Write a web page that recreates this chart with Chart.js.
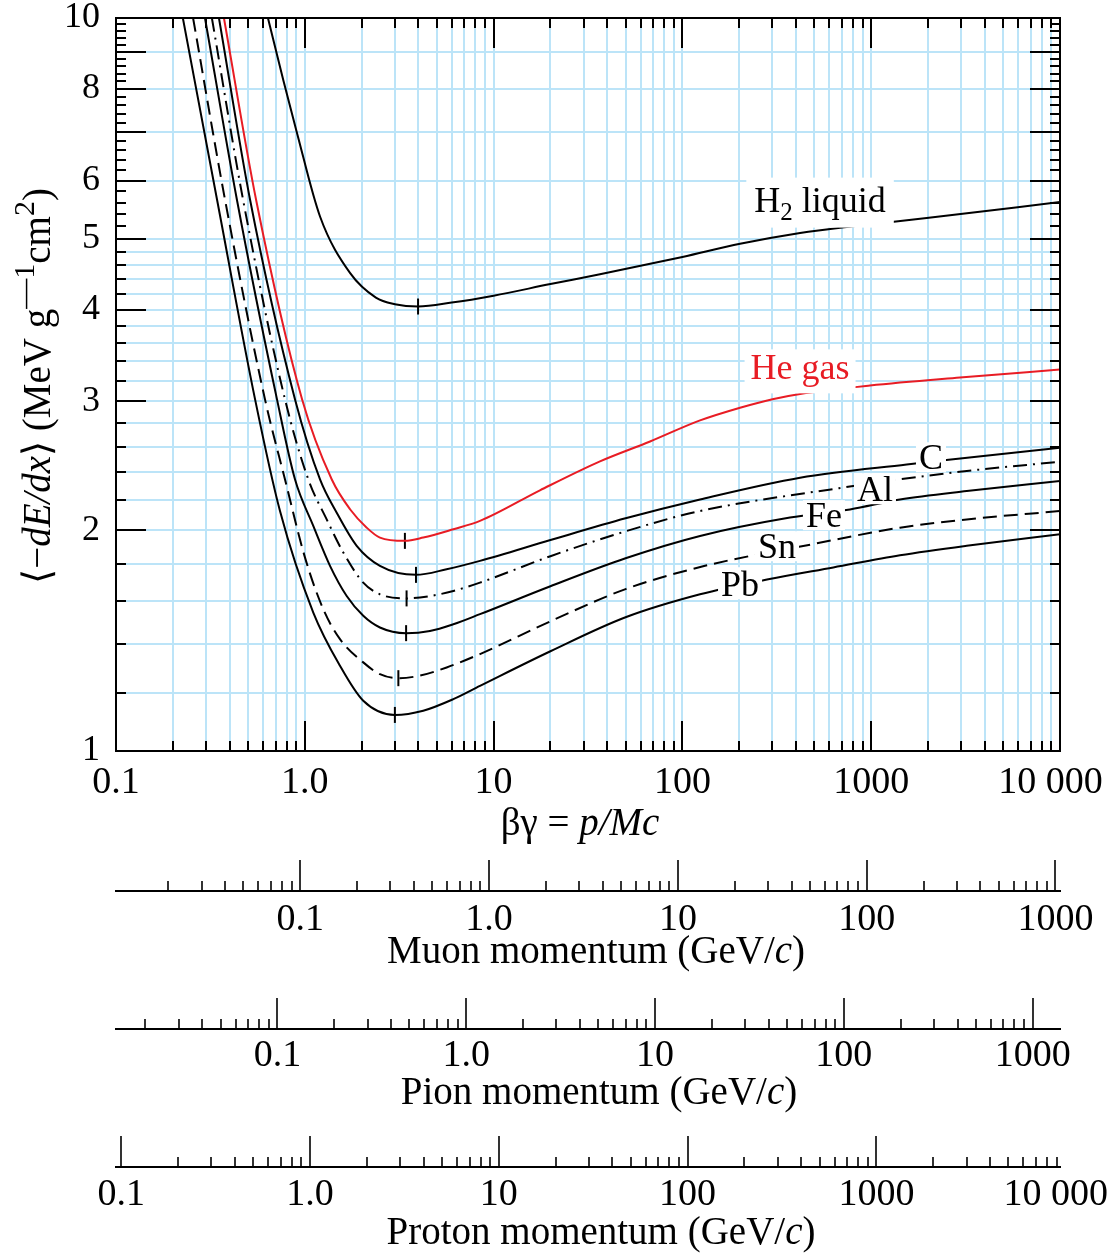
<!DOCTYPE html>
<html><head><meta charset="utf-8">
<script src="https://cdn.jsdelivr.net/npm/chart.js@4/dist/chart.umd.min.js"></script>
<style>html,body{margin:0;padding:0;background:#fff}#wrap{width:1109px;height:1253px;position:relative}</style>
</head><body><div id="wrap"><canvas id="c" width="1109" height="1253"></canvas></div>
<script>
// ---------------- data (βγ = p/Mc, mean stopping power MeV g^-1 cm^2) ----------------
const bgH2   = [0.638,0.769,0.909,1.204,1.735,2.38,3.0,3.98,6.0,10,20,36.6,100,202,420,803,1968,10000];
const dedxH2 = [10,8.23,6.97,5.36,4.49,4.155,4.07,4.04,4.09,4.18,4.335,4.47,4.72,4.92,5.09,5.20,5.335,5.61];

const bgHe   = [0.373,0.552,0.967,1.388,1.736,2.128,2.50,3.39,4.24,6.12,8.47,17.6,36.6,67.4,124,202,300,420,985,2951,10000];
const dedxHe = [10,5.65,3.02,2.348,2.137,2.017,1.955,1.935,1.955,2.007,2.06,2.268,2.484,2.644,2.825,2.94,3.02,3.07,3.152,3.232,3.314];

const bgC    = [0.351,0.513,0.887,1.204,1.476,1.883,2.50,3.88,5.64,8.47,20,50,124,420,1542,2722,10000];
const dedxC  = [10,5.65,3.02,2.348,2.114,1.905,1.789,1.739,1.77,1.817,1.94,2.077,2.204,2.36,2.46,2.50,2.593];

const bgAl   = [0.322,0.471,0.785,1.043,1.306,1.6,2.04,2.5,3.46,4.6,6.12,8.47,20,50,124,711,1420,3206,10000];
const dedxAl = [10,5.65,3.02,2.348,2.07,1.865,1.697,1.636,1.615,1.627,1.653,1.697,1.844,1.994,2.125,2.288,2.348,2.41,2.481];

const bgFe   = [0.296,0.437,0.712,0.887,1.109,1.36,1.667,2.04,2.5,3.44,4.6,6.12,8.47,20,50,124,371.5,772,1420,3206,10000];
const dedxFe = [10,5.65,3.02,2.348,2.028,1.789,1.627,1.529,1.474,1.448,1.458,1.489,1.537,1.678,1.832,1.965,2.082,2.136,2.204,2.263,2.335];

const bgSn   = [0.256,0.378,0.615,0.785,1.0,1.253,1.536,2.04,2.5,3.13,4.07,5.64,8.47,20,50,131.7,484,1420,3206,10000];
const dedxSn = [10,5.65,3.02,2.348,1.84,1.561,1.421,1.321,1.273,1.257,1.267,1.30,1.356,1.503,1.663,1.789,1.914,2.017,2.07,2.125];

const bgPb   = [0.226,0.343,0.545,0.739,1.109,1.536,2.04,3.0,4.24,6.12,8.47,20,50,124,285,630,1420,3206,10000];
const dedxPb = [10,5.65,3.02,2.125,1.545,1.307,1.171,1.12,1.135,1.177,1.227,1.368,1.522,1.636,1.715,1.78,1.849,1.905,1.975];

// minimum-ionization markers (H2, He, C, Al, Fe, Sn, Pb)
const minBG   = [3.98,3.39,3.88,3.46,3.44,3.13,3.0];
const minDedx = [4.04,1.935,1.739,1.615,1.448,1.257,1.12];

// tick labels
const xLabelVals = [0.1,1,10,100,1000,10000];
const xLabelText = ['0.1','1.0','10','100','1000','10 000\u2007'];
const yLabelVals = [1,2,3,4,5,6,8,10];
const yLabelText = ['1','2','3','4','5','6','8','10'];
const momLabelVals = [0.1,1,10,100,1000,10000];
const momLabelText = ['0.1','1.0','10','100','1000','10 000\u2007'];

// particle masses (GeV/c^2) for the momentum axes
const massMu = 0.10566, massPi = 0.13957, massP = 0.93827;

// ---------------- helpers ----------------
const SERIF = "'Liberation Serif','Times New Roman',serif";
const BLUE = 'rgb(188,228,248)';
const RED = 'rgb(232,28,36)';
function pairs(xs, ys){ return xs.map((x,i)=>({x:x, y:ys[i]})); }
function labelFor(v, vals, texts){ for (let i=0;i<vals.length;i++){ if (Math.abs(v/vals[i]-1)<1e-6) return texts[i]; } return ''; }
function logTicks(min, max){
  const out=[]; const e0=Math.floor(Math.log10(min))-1, e1=Math.ceil(Math.log10(max));
  for (let e=e0;e<=e1;e++) for (let m=1;m<=9;m++){
    const v=parseFloat((m*Math.pow(10,e)).toPrecision(6));
    if (v>=min*(1-1e-9) && v<=max*(1+1e-9)) out.push(v);
  }
  return out;
}
function isDecade(v){ const l=Math.log10(v); return Math.abs(l-Math.round(l))<1e-6; }
function isInt(v){ return Math.abs(v-Math.round(v))<1e-6; }
const yTickVals = []; for (let i=0;i<=45;i++) yTickVals.push(Math.round((1+0.2*i)*10)/10);

function fontOf(s, size){ return (s.it?'italic ':'') + ((s.sup||s.sub)?Math.round(size*(s.k||0.7)):size) + 'px ' + SERIF; }
function segDy(s, size){ return s.sup ? -size*0.4 : (s.sub ? size*0.22 : 0); }
function richWidth(ctx, segs, size){ let w=0; for (const s of segs){ ctx.font=fontOf(s,size); w+=ctx.measureText(s.t).width; } return w; }
function drawRich(ctx, segs, cx, baseY, size, color, box){
  const w = richWidth(ctx, segs, size);
  let x = cx - w/2;
  if (box){
    let top=Infinity, bot=-Infinity;
    for (const s of segs){ ctx.font=fontOf(s,size); const m=ctx.measureText(s.t); const dy=segDy(s,size);
      top=Math.min(top, baseY+dy-m.actualBoundingBoxAscent); bot=Math.max(bot, baseY+dy+m.actualBoundingBoxDescent); }
    ctx.fillStyle='#fff'; ctx.fillRect(x-box, top-box, w+2*box, bot-top+2*box);
  }
  ctx.fillStyle=color; ctx.textAlign='left'; ctx.textBaseline='alphabetic';
  for (const s of segs){ ctx.font=fontOf(s,size); ctx.fillText(s.t, x, baseY+segDy(s,size)); x+=ctx.measureText(s.t).width; }
}

// curve labels placed in data coordinates (βγ, dE/dx) = visual centre of the text
const LABEL_SIZE = 36;
const curveLabels = [
  {segs:[{t:'H'},{t:'2',sub:true},{t:' liquid'}], bg:536, v:5.65, color:'#000', pad:8},
  {segs:[{t:'He gas'}], bg:420, v:3.336, color:RED, pad:6},
  {segs:[{t:'C'}], bg:2073, v:2.515, color:'#000', pad:3},
  {segs:[{t:'Al'}], bg:1047, v:2.275, color:'#000', pad:3},
  {segs:[{t:'Fe'}], bg:562, v:2.097, color:'#000', pad:3},
  {segs:[{t:'Sn'}], bg:317, v:1.902, color:'#000', pad:3},
  {segs:[{t:'Pb'}], bg:202, v:1.688, color:'#000', pad:3}
];

const curves = [
  {label:'H2 liquid', xs:bgH2, ys:dedxH2, color:'#000', dash:[]},
  {label:'He gas', xs:bgHe, ys:dedxHe, color:RED, dash:[]},
  {label:'C', xs:bgC, ys:dedxC, color:'#000', dash:[]},
  {label:'Al', xs:bgAl, ys:dedxAl, color:'#000', dash:[14,6,2,6]},
  {label:'Fe', xs:bgFe, ys:dedxFe, color:'#000', dash:[]},
  {label:'Sn', xs:bgSn, ys:dedxSn, color:'#000', dash:[14,7]},
  {label:'Pb', xs:bgPb, ys:dedxPb, color:'#000', dash:[]}
];
const datasets = curves.map(c => ({
  type:'line', label:c.label, data:pairs(c.xs,c.ys), borderColor:c.color, borderWidth:2,
  borderDash:c.dash, pointRadius:0, fill:false, cubicInterpolationMode:'monotone', xAxisID:'x', yAxisID:'y'
}));
datasets.push({type:'scatter', label:'minimum', data:pairs(minBG,minDedx), pointStyle:'line',
  pointRotation:90, pointRadius:8, pointBorderWidth:2, pointBorderColor:'#000', pointBackgroundColor:'#000',
  xAxisID:'x', yAxisID:'y'});

function fixH(h){ return function(s){ s.height=h; s.paddingLeft=0; s.paddingRight=0; }; }
const xFont = {family:SERIF, size:38, lineHeight:1.2};
const yFont = {family:SERIF, size:36, lineHeight:1.2};
function momScale(id, mass, weight, h, pad){
  return {type:'logarithmic', position:'bottom', weight:weight, min:0.1*mass, max:10000*mass,
    afterBuildTicks: s => { const t=logTicks(0.1*mass, 10000*mass); if (id==='p') t.push(10000); s.ticks=t.map(v=>({value:v})); },
    afterFit: fixH(h),
    grid:{display:false, drawTicks:false},
    border:{display:true, color:'#000', width:2},
    ticks:{autoSkip:false, maxRotation:0, minRotation:0, padding:pad, color:'#000', font:xFont,
      callback: v => labelFor(v, momLabelVals, momLabelText)}
  };
}

const decor = {
  id:'decor',
  afterDatasetsDraw(chart){
    const ctx=chart.ctx, xs=chart.scales.x, ys=chart.scales.y, a=chart.chartArea;
    ctx.save();
    for (const L of curveLabels){
      const cx=xs.getPixelForValue(L.bg), cy=ys.getPixelForValue(L.v);
      drawRich(ctx, L.segs, cx, cy+LABEL_SIZE*0.33, LABEL_SIZE, L.color, L.pad);
    }
    ctx.strokeStyle='#000'; ctx.lineWidth=2;
    ctx.strokeRect(a.left, a.top, a.right-a.left, a.bottom-a.top);
    ctx.beginPath();
    for (const t of xs.ticks){
      const px=Math.round(xs.getPixelForValue(t.value)); const len=isDecade(t.value)?30:10;
      ctx.moveTo(px,a.bottom); ctx.lineTo(px,a.bottom-len);
      ctx.moveTo(px,a.top); ctx.lineTo(px,a.top+len);
    }
    for (const t of ys.ticks){
      const py=Math.round(ys.getPixelForValue(t.value)); const len=isInt(t.value)?30:10;
      ctx.moveTo(a.left,py); ctx.lineTo(a.left+len,py);
      ctx.moveTo(a.right,py); ctx.lineTo(a.right-len,py);
    }
    ctx.stroke();
    ctx.restore();
  },
  afterDraw(chart){
    const ctx=chart.ctx;
    ctx.save();
    ctx.strokeStyle='#000'; ctx.lineWidth=1.6; ctx.beginPath();
    for (const id of ['mu','pi','p']){
      const s=chart.scales[id];
      for (const t of s.ticks){
        if (t.value> s.max*(1+1e-9) || t.value < s.min*(1-1e-9)) continue;
        const px=Math.round(s.getPixelForValue(t.value)); const len=isDecade(t.value)?31:10;
        ctx.moveTo(px, s.top); ctx.lineTo(px, s.top-len);
      }
    }
    ctx.stroke();
    const xs=chart.scales.x;
    drawRich(ctx, [{t:'βγ = '},{t:'p/Mc',it:true}], 580, xs.top+84, 39, '#000');
    drawRich(ctx, [{t:'Muon momentum (GeV/'},{t:'c',it:true},{t:')'}], 596, chart.scales.mu.top+72, 39, '#000');
    drawRich(ctx, [{t:'Pion momentum (GeV/'},{t:'c',it:true},{t:')'}], 599, chart.scales.pi.top+75, 39, '#000');
    drawRich(ctx, [{t:'Proton momentum (GeV/'},{t:'c',it:true},{t:')'}], 601, chart.scales.p.top+77, 39, '#000');
    ctx.translate(50, 386); ctx.rotate(-Math.PI/2);
    drawRich(ctx, [{t:'⟨−'},{t:'dE/dx',it:true},{t:'⟩ (MeV g'},{t:'—1',sup:true,k:0.78},{t:'cm'},{t:'2',sup:true,k:0.78},{t:')'}], 0, 0, 39, '#000');
    ctx.restore();
  }
};

new Chart(document.getElementById('c'), {
  data:{datasets:datasets},
  options:{
    responsive:false, maintainAspectRatio:false, devicePixelRatio:1, animation:false, events:[],
    layout:{padding:{top:18, right:49, left:0, bottom:0}},
    plugins:{legend:{display:false}, tooltip:{enabled:false}, title:{display:false}},
    scales:{
      x:{type:'logarithmic', position:'bottom', weight:0, min:0.1, max:10000,
        afterBuildTicks: s => { s.ticks = logTicks(0.1,10000).map(v=>({value:v})); },
        afterFit: fixH(140),
        grid:{color:BLUE, lineWidth:2, drawTicks:false},
        border:{display:false},
        ticks:{autoSkip:false, maxRotation:0, minRotation:0, padding:9, color:'#000', font:xFont,
          callback: v => labelFor(v, xLabelVals, xLabelText)}
      },
      y:{type:'logarithmic', position:'left', min:1, max:10,
        afterBuildTicks: s => { s.ticks = yTickVals.map(v=>({value:v})); },
        afterFit: s => { s.width=116; s.paddingTop=0; s.paddingBottom=0; },
        grid:{drawTicks:false, lineWidth:2, color: c => (c.tick && (c.tick.value<=5.0001 || isInt(c.tick.value))) ? BLUE : 'rgba(0,0,0,0)'},
        border:{display:false},
        ticks:{autoSkip:false, padding:16, color:'#000', font:yFont,
          callback: v => labelFor(v, yLabelVals, yLabelText)}
      },
      mu: momScale('mu', massMu, 1, 138, 6),
      pi: momScale('pi', massPi, 2, 138, 4),
      p:  momScale('p',  massP,  3, 86, 5)
    }
  },
  plugins:[decor]
});
</script></body></html>
